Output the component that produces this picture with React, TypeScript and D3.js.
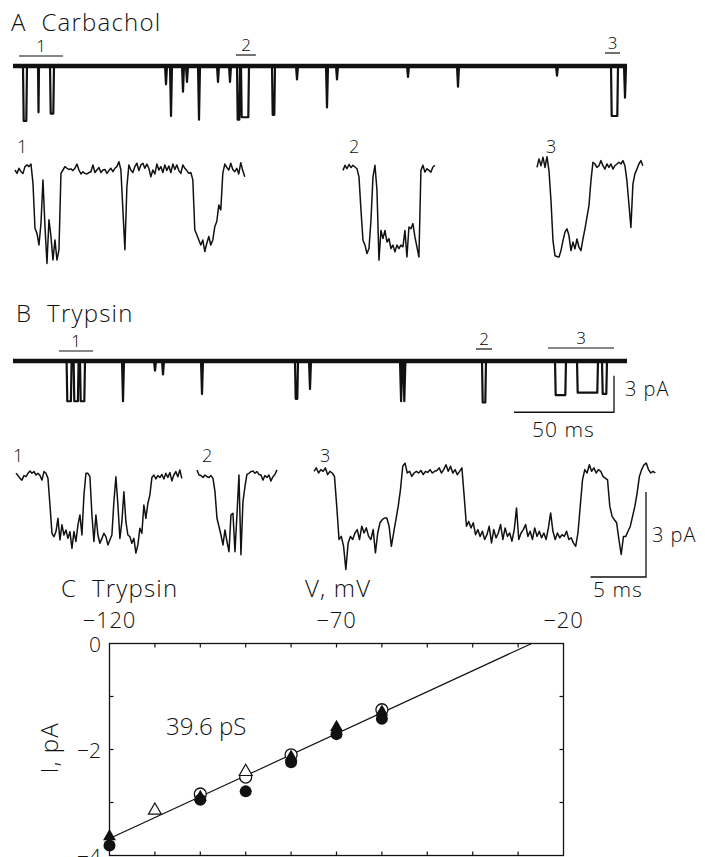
import React from 'react';
import * as d3 from 'd3';

// compressed records: openings as [start ms, end ms, amplitude pA]
const eventsA = [
  [5, 7, -4.5], [12.5, 13, -3.8], [18.5, 20.5, -3.9], [76, 77, -1.5], [78.5, 79.5, -4.1],
  [84.5, 85.5, -2.1], [86.5, 87.5, -1.3], [92.5, 93.5, -4.4], [102, 103, -1.3], [108, 109, -1.3],
  [112, 113.5, -4.4], [114, 118, -4.2], [129.5, 131, -4.0], [141.5, 142.5, -1.1],
  [156.5, 157.5, -3.4], [161.5, 162.5, -1.1], [197, 198, -0.9], [222, 223, -1.7], [271.5, 272.5, -0.8],
  [299, 302.5, -4.1], [305.5, 306.5, -2.6],
];
const eventsB = [
  [26.8, 29.3, -3.3], [30.3, 32.8, -3.3], [33.5, 36, -3.3], [54.5, 55.5, -3.3], [70.5, 71.5, -0.8],
  [74.5, 75.5, -1.1], [94, 95, -2.7], [141, 142.5, -3.1], [148, 149, -2.3], [193.5, 194.6, -3.3],
  [195.1, 196.2, -3.3], [234.5, 236.5, -3.4], [271, 276.5, -2.8], [282, 292.5, -2.6], [294.5, 297, -2.7],
];
const recordLength = 307;
// segments shown expanded (ms)
const segmentsA = [[3, 25], [111.5, 121.5], [296, 303.5]];
const segmentsB = [[23, 40], [231.5, 239.5], [267.5, 300.5]];

// expanded records, pA, sampled every dt ms
const dt = 0.18;
const dtB3 = 0.205;
const traceA1 = [0, -0.12, 0.06, -0.06, -0.12, 0.12, 0.18, 0.12, 0.21, -0.47, -2.06, -2.24, -2.65, -1.88, -0.35, -2.0, -3.3, -1.76, -2.35, -3.18, -2.47, -3.18, -2.82, -0.12, 0, 0.12, 0.06, 0.02, 0.04, -0.02, 0.06, 0.21, 0, -0.14, -0.06, -0.12, -0.14, -0.09, -0.06, 0.18, -0.09, 0, 0.09, -0.09, 0, 0.02, -0.12, -0.02, 0.06, -0.06, 0.06, 0.12, 0.29, 0, -1.41, -2.82, -0.59, 0.18, 0, -0.09, 0.12, 0.24, -0.02, 0.18, 0.24, 0.06, 0.21, 0.06, -0.24, 0, -0.14, 0.21, 0, 0.12, -0.09, 0.18, -0.02, 0.14, -0.09, 0.21, 0.02, 0.18, -0.02, -0.12, 0.18, 0.06, -0.02, -0.12, -0.09, -0.35, -2.12, -2.29, -2.47, -2.65, -2.47, -2.88, -2.59, -2.35, -2.65, -2.47, -2.0, -1.82, -1.24, -1.41, -0.12, 0.21, 0.09, 0, 0.24, 0.02, -0.06, 0.06, -0.14, 0.26, -0.02, -0.24];
const traceA2 = [-0.12, 0.06, -0.06, 0.09, -0.02, 0.06, 0, -0.06, -0.35, -1.53, -2.59, -2.76, -3.06, -2.88, -1.88, -0.35, 0.06, -0.82, -3.29, -2.24, -2.53, -2.24, -2.65, -2.53, -2.88, -2.76, -3.0, -2.76, -2.88, -2.76, -2.82, -2.24, -3.18, -2.12, -2.18, -2.0, -2.47, -2.82, -3.18, -0.12, 0.06, -0.18, -0.06, -0.12, -0.18, 0, 0.06];
const traceA3 = [-0.12, 0.18, -0.06, 0.24, -0.12, 0.26, -0.24, -1.29, -2.71, -3.24, -3.27, -3.29, -3.06, -2.71, -2.41, -2.29, -2.53, -3.06, -2.76, -3.0, -2.65, -2.94, -3.06, -2.65, -2.29, -1.88, -1.47, -0.59, 0.06, 0, -0.12, -0.06, 0.12, -0.06, -0.18, 0, -0.12, 0, -0.18, -0.06, 0, 0.06, 0, 0.12, -0.06, -0.59, -1.41, -2.24, -0.71, -0.35, -0.18, 0, 0.12, -0.06];
const traceB1 = [0.06, -0.02, -0.12, -0.18, -0.02, -0.06, 0.06, 0.14, 0.06, 0.12, 0, 0.06, -0.02, -0.18, 0.12, 0.06, -0.12, -1.06, -2.06, -2.18, -2.0, -1.53, -2.29, -1.76, -2.12, -1.94, -2.24, -2.0, -2.59, -2.0, -2.35, -1.76, -1.41, -2.12, -0.71, 0.06, 0.06, -0.06, -1.41, -2.35, -1.41, -2.12, -2.41, -2.24, -2.06, -2.18, -2.47, -2.29, -2.12, -0.94, -0.06, -1.06, -2.24, -1.65, -0.59, -1.65, -2.12, -2.18, -2.41, -2.24, -2.76, -2.47, -1.88, -2.06, -1.06, -1.53, -1.0, -0.71, -0.09, 0, -0.14, -0.02, -0.09, 0.02, -0.14, 0.06, -0.09, 0.09, -0.21, 0, 0.12, -0.06, 0.18, -0.12];
const traceB2 = [0.18, 0, -0.02, -0.09, 0, -0.06, -0.09, -0.02, -0.12, -0.59, -1.53, -1.82, -2.12, -2.47, -1.94, -2.35, -2.71, -1.41, -1.35, -2.71, -1.41, 0, -2.82, -0.94, -0.41, 0.02, 0.06, 0.12, 0.14, 0.06, 0.12, 0.02, 0, -0.18, -0.02, -0.09, 0, -0.21, -0.06, 0.02, 0.18];
const traceB3 = [0.06, 0.18, 0, 0.12, 0.06, 0.18, -0.06, 0.06, 0, -0.12, -1.18, -2.35, -2.24, -2.59, -3.41, -2.47, -2.24, -2.35, -2.12, -2.0, -2.35, -1.88, -2.12, -1.94, -2.24, -2.35, -2.0, -2.82, -2.12, -1.76, -1.65, -1.59, -1.59, -1.88, -2.59, -2.12, -1.65, -1.18, -0.59, 0.24, 0.35, 0, 0.06, -0.12, 0, 0.06, 0, 0.09, -0.06, 0.06, 0.02, 0.12, 0, 0.06, 0.09, 0.18, 0, 0.12, 0.29, 0.06, 0.24, 0, 0.12, -0.06, 0.06, 0.18, -0.82, -1.88, -1.71, -1.94, -1.76, -2.18, -2.0, -2.24, -2.06, -2.35, -2.18, -1.88, -2.47, -2.0, -2.29, -2.12, -1.82, -2.35, -1.94, -2.24, -2.12, -2.41, -2.0, -1.24, -2.35, -2.12, -2.0, -1.82, -2.24, -2.06, -2.35, -1.94, -2.24, -2.06, -2.29, -2.12, -2.35, -1.94, -1.41, -2.06, -2.35, -2.12, -2.29, -2.18, -2.24, -2.06, -2.35, -2.29, -2.47, -2.59, -2.12, -1.18, -0.24, 0.12, 0, 0.29, 0.06, 0.18, 0, 0.12, 0.06, -0.12, -0.18, -0.24, -1.18, -1.53, -1.65, -1.76, -2.35, -2.88, -2.24, -2.24, -2.06, -1.88, -1.53, -1.18, -0.71, -0.12, 0.12, 0.29, 0.35, 0.12, 0, 0.06, 0];

// I-V relation, trypsin (mV, pA)
const ivOpenCircle = [[-100, -2.84], [-90, -2.52], [-80, -2.1], [-60, -1.25]];
const ivOpenTriangle = [[-110, -3.15], [-90, -2.42]];
const ivFilledCircle = [[-120, -3.81], [-100, -2.95], [-90, -2.79], [-80, -2.24], [-70, -1.71], [-60, -1.42]];
const ivFilledTriangle = [[-120, -3.64], [-100, -2.9], [-80, -2.14], [-70, -1.58], [-60, -1.29]];
const ivFit = [[-120, -3.68], [-27, 0]];
const vTickLabels = [-120, -70, -20];
const iTickLabels = [0, -2, -4];

const FONT = "'Open Sans', 'DejaVu Sans', sans-serif";
const minus = (v: number) => (v < 0 ? '\u2212' + Math.abs(v) : String(v));

const xC = d3.scaleLinear().domain([0, recordLength]).range([13, 627]);
const pxPerPA = 12.2;

function eventPoints(events: number[][]) {
  const pts: number[][] = [[0, 0]];
  events.forEach(([t0, t1, a]) => {
    if (t1 - t0 <= 1.2) pts.push([t0, 0], [(t0 + t1) / 2, a], [t1, 0]);
    else pts.push([t0, 0], [t0 + 0.35, a], [t1 - 0.35, a], [t1, 0]);
  });
  pts.push([recordLength, 0]);
  return pts;
}

function Compressed({ events, base }: { events: number[][]; base: number }) {
  const y = d3.scaleLinear().domain([0, -1]).range([base, base + pxPerPA]);
  const line = d3.line<number[]>().x((d) => xC(d[0])).y((d) => y(d[1]));
  return (
    <g>
      <path d={line([[0, 0], [recordLength, 0]]) || ''} stroke="#111" strokeWidth={4.5} fill="none" />
      <path d={line(eventPoints(events)) || ''} stroke="#111" strokeWidth={2.2} fill="none" strokeLinejoin="round" />
    </g>
  );
}

const msPx = 11.1;
const paPx = 28.3;

function Expanded({ data, x0, base, step }: { data: number[]; x0: number; base: number; step: number }) {
  const x = d3.scaleLinear().domain([0, 1]).range([x0, x0 + msPx]);
  const y = d3.scaleLinear().domain([0, -1]).range([base, base + paPx]);
  const line = d3.line<number>().x((_, i) => x(i * step)).y((d) => y(d));
  return <path d={line(data) || ''} stroke="#111" strokeWidth={1.5} fill="none" strokeLinejoin="round" />;
}

function Markers({ segments, base }: { segments: number[][]; base: number[] }) {
  return (
    <g>
      {segments.map(([t0, t1], i) => (
        <g key={i}>
          <line x1={xC(t0)} x2={xC(t1)} y1={base[i]} y2={base[i]} stroke="#111" strokeWidth={1.2} />
          <text x={(xC(t0) + xC(t1)) / 2} y={base[i] - 4} textAnchor="middle" fontSize={17} fontFamily={FONT} fontWeight={300}>
            {i + 1}
          </text>
        </g>
      ))}
    </g>
  );
}

export default function App() {
  const xV = d3.scaleLinear().domain([-120, -20]).range([109.5, 563.5]);
  const yI = d3.scaleLinear().domain([0, -4]).range([643.5, 855.5]);
  const fit = d3.line<number[]>().x((d) => xV(d[0])).y((d) => yI(d[1]));
  const tri = d3.symbol().type(d3.symbolTriangle).size(72)() || '';
  const vTicks = d3.range(-110, -20, 10);
  const iTicks = d3.range(-1, -4, -1);
  const txt = { fontFamily: FONT, fontWeight: 300, fill: '#111' };
  const pre = { whiteSpace: 'pre' as const };
  const yB = d3.scaleLinear().domain([0, -1]).range([361, 361 + pxPerPA]);

  return (
    <svg width={705} height={857} style={{ position: 'absolute', left: 0, top: 0, background: '#fff' }}>
      {/* A */}
      <text x={11} y={31} fontSize={24} letterSpacing={1.2} {...txt} style={pre}>A  Carbachol</text>
      <Markers segments={segmentsA} base={[56, 55, 53]} />
      <Compressed events={eventsA} base={66} />
      <text x={17} y={153} fontSize={18} {...txt}>1</text>
      <text x={349} y={153} fontSize={18} {...txt}>2</text>
      <text x={546} y={153} fontSize={18} {...txt}>3</text>
      <Expanded data={traceA1} x0={15} base={170} step={dt} />
      <Expanded data={traceA2} x0={343} base={167} step={dt} />
      <Expanded data={traceA3} x0={537} base={164} step={dt} />

      {/* B */}
      <text x={16} y={322} fontSize={24} letterSpacing={1.2} {...txt} style={pre}>B  Trypsin</text>
      <Markers segments={segmentsB} base={[351, 349, 348]} />
      <Compressed events={eventsB} base={361} />
      <path
        d={`M${xC(250.5)},${yB(-4.2)}H${xC(300.5)}V${yB(-4.2) - 3 * pxPerPA}`}
        stroke="#111" strokeWidth={1.3} fill="none"
      />
      <text x={625} y={396} fontSize={20} letterSpacing={1} {...txt}>3 pA</text>
      <text x={532} y={437} fontSize={21} letterSpacing={1} {...txt}>50 ms</text>

      <text x={13} y={462} fontSize={18} {...txt}>1</text>
      <text x={202} y={462} fontSize={18} {...txt}>2</text>
      <text x={320} y={462} fontSize={18} {...txt}>3</text>
      <Expanded data={traceB1} x0={16} base={475} step={dt} />
      <Expanded data={traceB2} x0={197} base={475} step={dt} />
      <Expanded data={traceB3} x0={314} base={473} step={dtB3} />
      <path d={`M${646 - 5 * msPx},577H646V${577 - 3 * paPx}`} stroke="#111" strokeWidth={1.3} fill="none" />
      <text x={652} y={542} fontSize={20} letterSpacing={1} {...txt}>3 pA</text>
      <text x={593} y={597} fontSize={21} letterSpacing={1} {...txt}>5 ms</text>

      {/* C */}
      <text x={61} y={597} fontSize={24} letterSpacing={1.2} {...txt} style={pre}>C  Trypsin</text>
      <text x={305} y={597} fontSize={24} letterSpacing={1.2} {...txt}>V, mV</text>
      {vTickLabels.map((v) => (
        <text key={v} x={xV(v)} y={628} textAnchor="middle" fontSize={22} letterSpacing={0.8} {...txt}>{minus(v)}</text>
      ))}
      {iTickLabels.map((v) => (
        <text key={v} x={101} y={yI(v) + 8} textAnchor="end" fontSize={21} {...txt}>{minus(v)}</text>
      ))}
      <text transform={`translate(58,748) rotate(-90)`} textAnchor="middle" fontSize={24} letterSpacing={1} {...txt}>I, pA</text>
      <rect x={xV(-120)} y={yI(0)} width={xV(-20) - xV(-120)} height={yI(-4) - yI(0)} fill="none" stroke="#111" strokeWidth={1.3} />
      {vTicks.map((v) => (
        <g key={v}>
          <line x1={xV(v)} x2={xV(v)} y1={yI(0)} y2={yI(0) + 4} stroke="#111" strokeWidth={1.2} />
          <line x1={xV(v)} x2={xV(v)} y1={yI(-4)} y2={yI(-4) - 4} stroke="#111" strokeWidth={1.2} />
        </g>
      ))}
      {iTicks.map((v) => (
        <g key={v}>
          <line x1={xV(-120)} x2={xV(-120) + 4} y1={yI(v)} y2={yI(v)} stroke="#111" strokeWidth={1.2} />
          <line x1={xV(-20)} x2={xV(-20) - 4} y1={yI(v)} y2={yI(v)} stroke="#111" strokeWidth={1.2} />
        </g>
      ))}
      <path d={fit(ivFit) || ''} stroke="#111" strokeWidth={1.2} fill="none" />
      <text x={166} y={735} fontSize={24} {...txt}>39.6 pS</text>
      {ivOpenCircle.map(([v, i], k) => (
        <circle key={'oc' + k} cx={xV(v)} cy={yI(i)} r={6} fill="#fff" stroke="#111" strokeWidth={1.3} />
      ))}
      {ivOpenTriangle.map(([v, i], k) => (
        <path key={'ot' + k} d={tri} transform={`translate(${xV(v)},${yI(i)})`} fill="#fff" stroke="#111" strokeWidth={1.2} />
      ))}
      {ivFilledCircle.map(([v, i], k) => (
        <circle key={'fc' + k} cx={xV(v)} cy={yI(i)} r={6} fill="#111" />
      ))}
      {ivFilledTriangle.map(([v, i], k) => (
        <path key={'ft' + k} d={tri} transform={`translate(${xV(v)},${yI(i)})`} fill="#111" />
      ))}
    </svg>
  );
}
